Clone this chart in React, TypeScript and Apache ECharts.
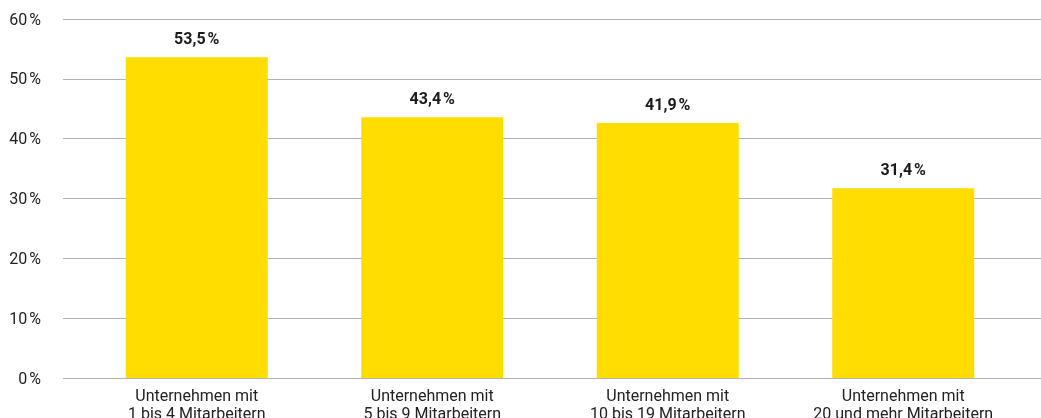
import React, { useEffect, useRef } from "react";
import * as echarts from "echarts";

const categories = [
  "Unternehmen mit\n1 bis 4 Mitarbeitern",
  "Unternehmen mit\n5 bis 9 Mitarbeitern",
  "Unternehmen mit\n10 bis 19 Mitarbeitern",
  "Unternehmen mit\n20 und mehr Mitarbeitern",
];
const barValues = [53.6, 43.6, 42.6, 31.7];
const barLabels = ["53,5\u202F%", "43,4\u202F%", "41,9\u202F%", "31,4\u202F%"];
const yTicks = [0, 10, 20, 30, 40, 50, 60];

export default function App() {
  const ref = useRef<HTMLDivElement>(null);
  useEffect(() => {
    if (!ref.current) return;
    const chart = echarts.init(ref.current, null, { renderer: "svg" });
    const font = "Roboto, 'Noto Sans', sans-serif";
    chart.setOption({
      animation: false,
      textStyle: { fontFamily: font },
      grid: [
        { left: 63, right: 0, top: 19, height: 359, containLabel: false, outerBoundsMode: "none" },
        { left: 79, right: 20, top: 19, height: 359, containLabel: false, outerBoundsMode: "none" },
      ],
      xAxis: [
        {
          gridIndex: 0,
          type: "value",
          min: 0,
          max: 1,
          show: false,
        },
        {
          gridIndex: 1,
          type: "category",
          data: categories,
          axisLine: { show: false },
          axisTick: { show: false },
          axisLabel: {
            interval: 0,
            margin: 8,
            color: "#222",
            fontSize: 16,
            lineHeight: 18,
            fontFamily: font,
          },
        },
      ],
      yAxis: [
        {
          gridIndex: 0,
          type: "value",
          min: yTicks[0],
          max: yTicks[yTicks.length - 1],
          interval: 10,
          axisLine: { show: false },
          axisTick: { show: false },
          axisLabel: {
            margin: 22,
            color: "#222",
            fontSize: 16,
            fontFamily: font,
            formatter: (v: number) => `${v}\u202F%`,
          },
          splitLine: { show: true, lineStyle: { color: "#b3b3b3", width: 1 } },
        },
        {
          gridIndex: 1,
          type: "value",
          min: yTicks[0],
          max: yTicks[yTicks.length - 1],
          interval: 10,
          show: false,
          splitLine: { show: false },
        },
      ],
      series: [
        {
          type: "bar",
          xAxisIndex: 1,
          yAxisIndex: 1,
          data: barValues,
          barWidth: 142,
          itemStyle: { color: "#FFDD00" },
          label: {
            show: true,
            position: "top",
            distance: 11,
            color: "#1a1a1a",
            fontSize: 16,
            fontWeight: "bold",
            fontFamily: font,
            formatter: (p: any) => barLabels[p.dataIndex],
          },
        },
      ],
    });
    return () => chart.dispose();
  }, []);
  return (
    <div
      ref={ref}
      style={{ position: "fixed", left: 0, top: 0, width: 1041, height: 418 }}
    />
  );
}
